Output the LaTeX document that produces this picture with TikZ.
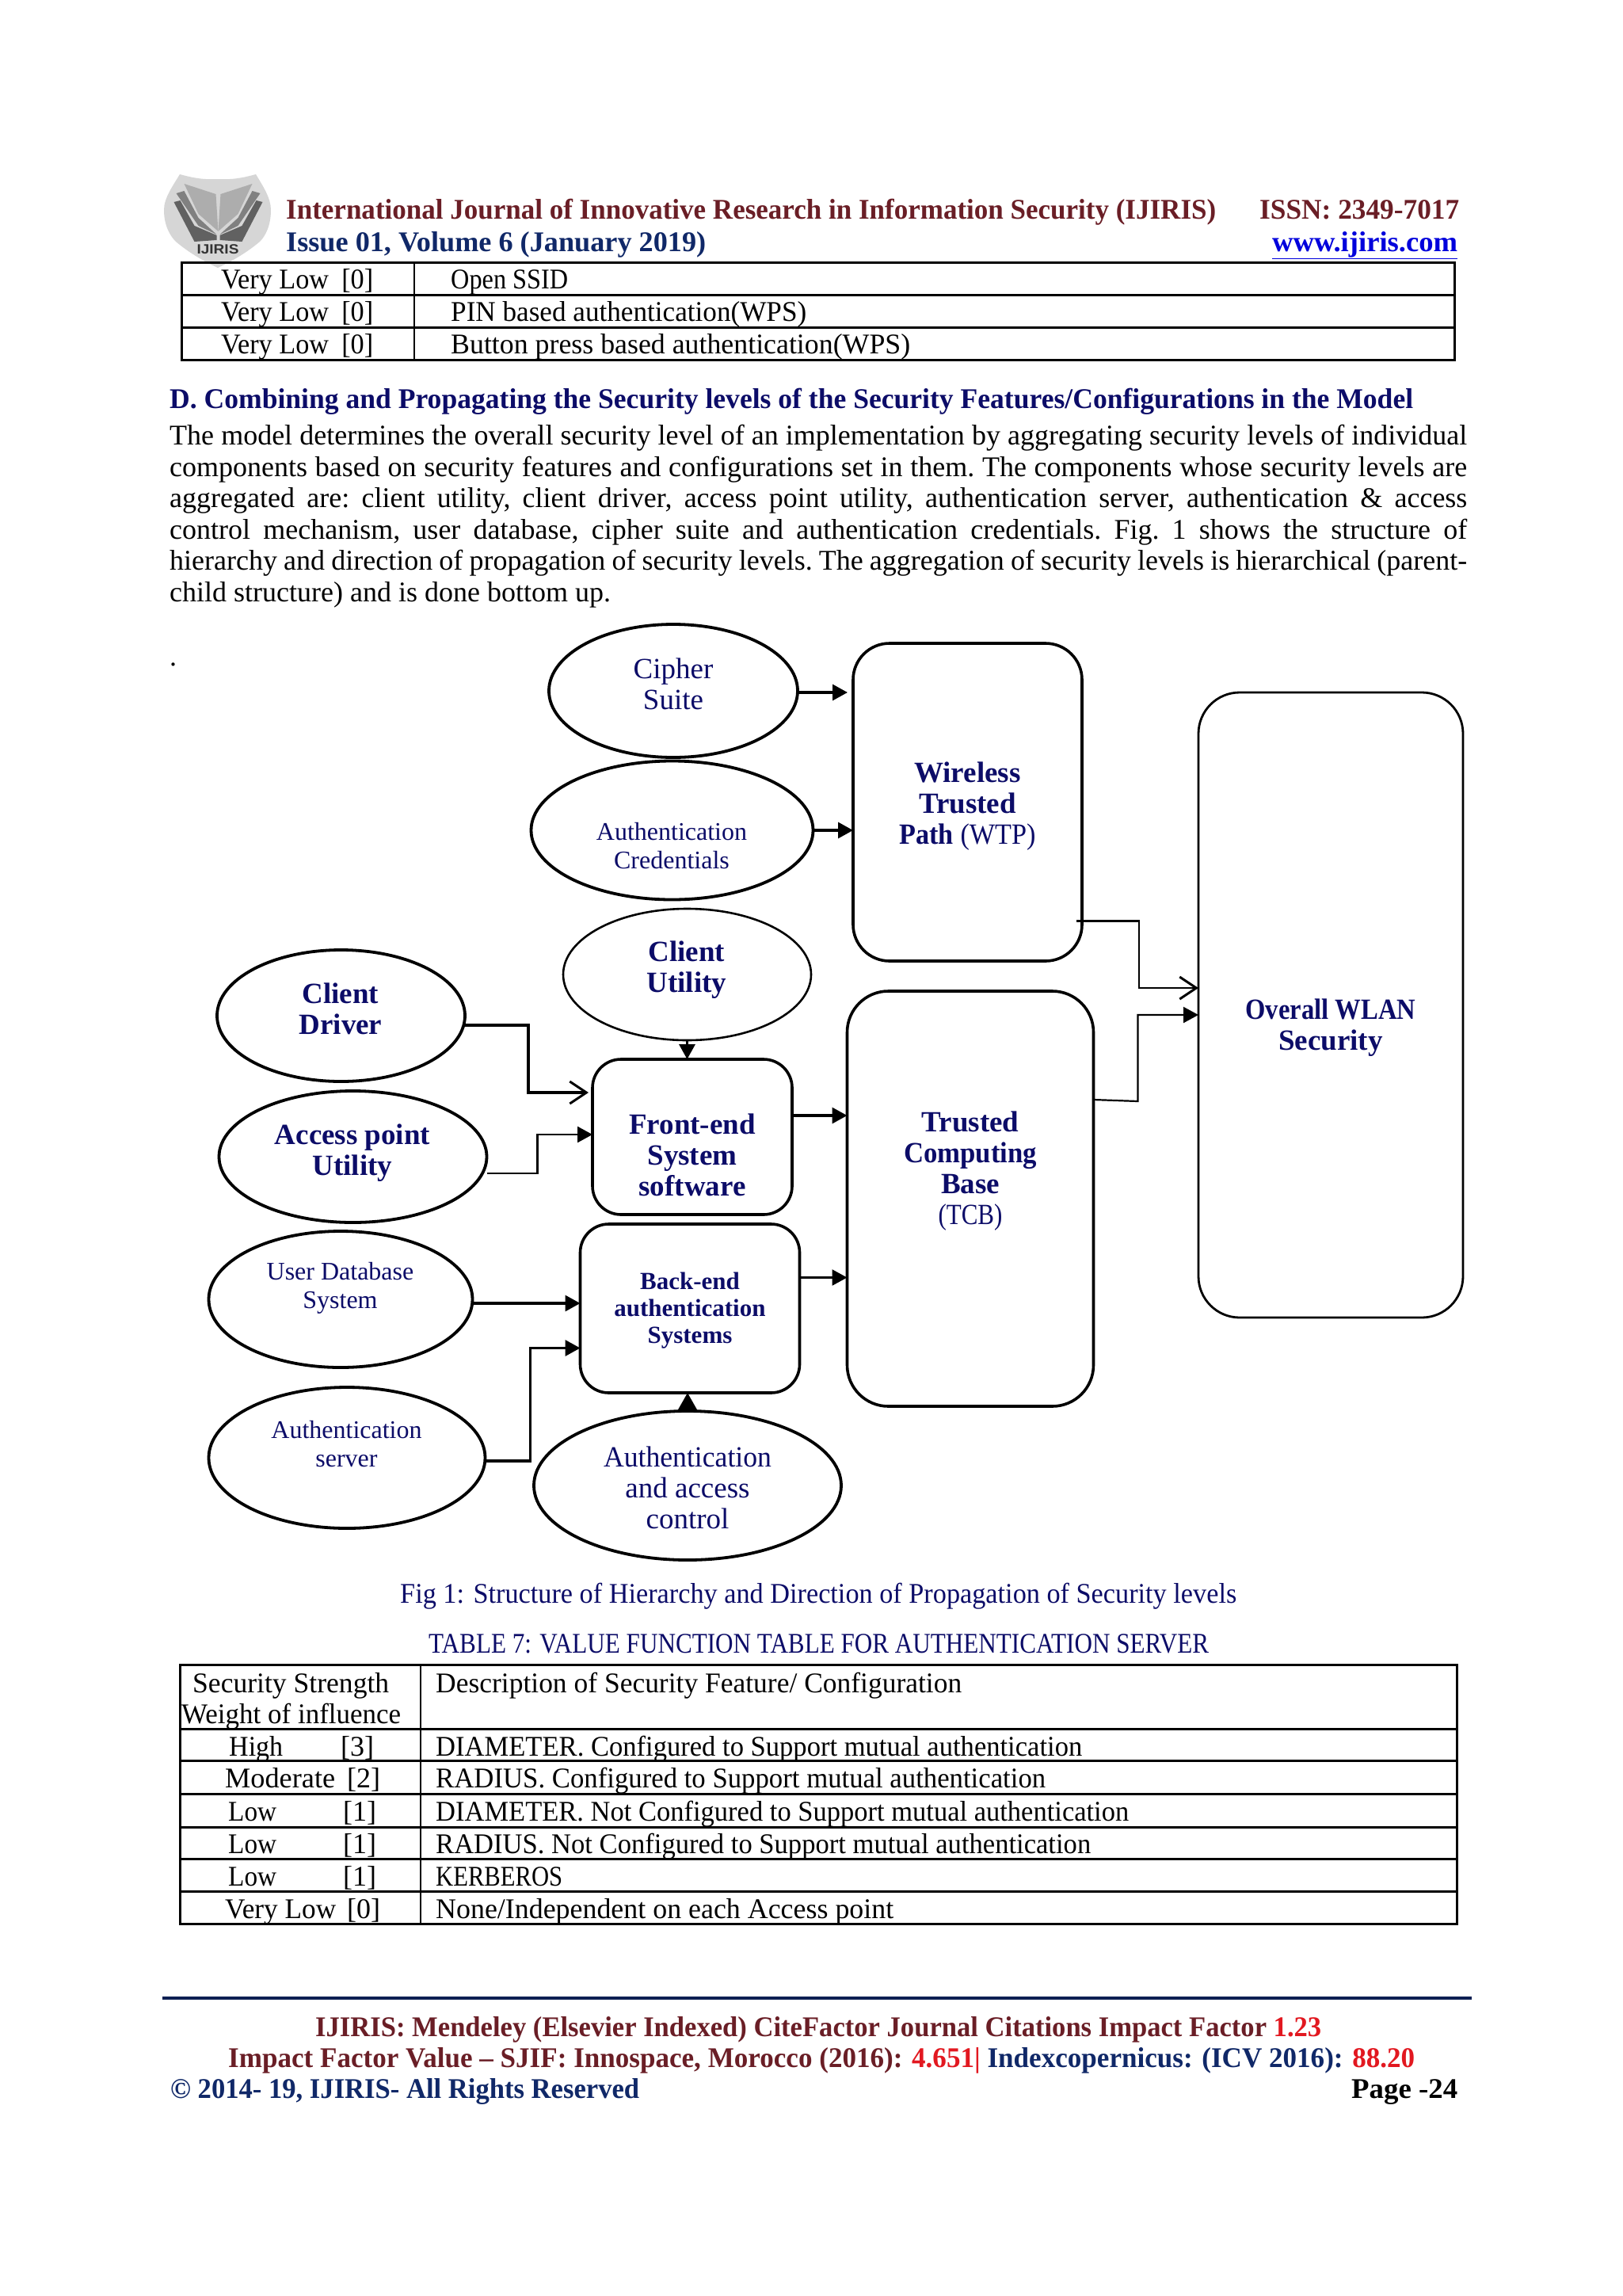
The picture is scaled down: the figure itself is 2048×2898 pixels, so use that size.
\documentclass[tikz,border=0pt]{standalone}
\usepackage{fontspec}
\usepackage{graphicx}
\usepackage{xcolor}
\usetikzlibrary{arrows.meta,positioning,shapes.geometric}
\setmainfont{Liberation Serif}
\newfontfamily\logofont{Liberation Sans}
\definecolor{navytext}{RGB}{12,12,104}
\definecolor{headred}{RGB}{106,30,38}
\definecolor{headblue}{RGB}{16,40,104}
\definecolor{numred}{RGB}{226,24,32}
\definecolor{linkblue}{RGB}{0,0,220}
\newcommand{\fitx}[2]{\resizebox{#1pt}{\height}{#2}}

\begin{document}
\begin{tikzpicture}[x=1pt,y=-1pt,
  oval/.style={ellipse,draw=black,line width=3.8pt,inner sep=0pt,outer sep=0pt},
  block/.style={rectangle,draw=black,line width=3.6pt,inner sep=0pt,outer sep=0pt,rounded corners=36pt},
  dtxt/.style={text=navytext,align=center,inner sep=0pt,font=\fontsize{37}{39}\selectfont},
  stxt/.style={text=navytext,align=center,inner sep=0pt,font=\fontsize{32}{36}\selectfont},
  btxt/.style={text=navytext,align=center,inner sep=0pt,font=\fontsize{37}{39}\selectfont\bfseries},
  ar/.style={-{Triangle[length=19pt,width=20pt]},line width=3.2pt},
  opn/.style={-{Straight Barb[length=21pt,width=28pt,line width=3pt]},line width=3.2pt},
  ptxt/.style={inner sep=0pt,anchor=west,text height=33pt,text depth=8pt,font=\fontsize{36}{39.5}\selectfont},
  hline/.style={line width=3pt}
]
\useasboundingbox (0,0) rectangle (2048,2898);
\fill[white] (0,0) rectangle (2048,2898);

% logo
\fill[black!16] (227,220) .. controls (245,225) and (258,227) .. (275,226)
  .. controls (292,227) and (305,225) .. (323,220)
  .. controls (332,235) and (342,250) .. (342,265)
  .. controls (342,285) and (335,298) .. (328,305)
  .. controls (310,320) and (292,330) .. (275,338)
  .. controls (258,330) and (240,320) .. (222,305)
  .. controls (215,298) and (207,285) .. (207,265)
  .. controls (207,250) and (218,235) .. (227,220) -- cycle;
\foreach \sd in {1,-1}{
  \begin{scope}[shift={(275.5,0)},xscale=\sd]
    \fill[black!32] (-43,232) -- (-3,245) -- (0,292) -- (-25,270) -- cycle;
    \fill[black!50] (-53,244) -- (-43,241) -- (-25,275) -- (-2,296) -- (-25,285) -- cycle;
    \fill[black!62] (-56,255) -- (-48,253) -- (-30,285) -- (-2,297) -- (-2,303) -- (-30,305) -- cycle;
  \end{scope}
}
\node[inner sep=0pt,text=black!80] (logotxt) at (275,315) {\logofont\bfseries\fitx{53}{\fontsize{17}{17}\selectfont IJIRIS}};

% header
\node[ptxt,text=headred] (journal) at (361,264) {\fitx{1174}{\bfseries International Journal of Innovative Research in Information Security (IJIRIS)}};
\node[ptxt,text=headred] (issn) at (1590,264) {\fitx{252}{\bfseries ISSN: 2349-7017}};
\node[ptxt,text=headblue] (issue) at (361,305) {\fitx{530}{\bfseries Issue 01, Volume 6 (January 2019)}};
\node[ptxt,text=linkblue] (www) at (1606,305) {\underline{\fitx{234}{\bfseries www.ijiris.com}}};

% top table
\draw[hline] (229.6,331) rectangle (1836,454);
\draw[hline] (229.6,372) -- (1836,372) (229.6,413) -- (1836,413);
\draw[line width=2pt] (523,331) -- (523,454);
\foreach \yy/\dw/\desc in {352/148/Open SSID,393/449/PIN based authentication(WPS),434/580/Button press based authentication(WPS)}{
  \node[ptxt] at (279,\yy) {\fitx{192}{Very Low\hspace{8pt} [0]}};
  \node[ptxt] at (569,\yy) {\fitx{\dw}{\desc}};
}

% section text
\node[ptxt,text=navytext] (sect) at (214,503) {\fitx{1570}{\bfseries D. Combining and Propagating the Security levels of the Security Features/Configurations in the Model}};
\node[inner sep=0pt,anchor=north west,text width=1638pt,align=justify,font=\fontsize{36}{39.5}\selectfont\frenchspacing] (para) at (214,536) {The model determines the overall security level of an implementation by aggregating security levels of individual\linebreak
components based on security features and configurations set in them. The components whose security levels are\linebreak
aggregated are: client utility, client driver, access point utility, authentication server, authentication \& access\linebreak
control mechanism, user database, cipher suite and authentication credentials. Fig. 1 shows the structure of\linebreak
hierarchy and direction of propagation of security levels. The aggregation of security levels is hierarchical (parent-\linebreak
child structure) and is done bottom up.};
\node[ptxt] (dot) at (214,828) {.};

% ovals
\node[oval,minimum width=314pt,minimum height=168pt] (cipher) at (850,872) {};
\node[oval,minimum width=356pt,minimum height=175pt] (cred) at (848.5,1048) {};
\node[oval,line width=2.6pt,minimum width=313pt,minimum height=166pt] (cutil) at (867.5,1230) {};
\node[oval,minimum width=313pt,minimum height=166pt] (driver) at (430.5,1282) {};
\node[oval,minimum width=338pt,minimum height=166pt] (access) at (445.5,1460) {};
\node[oval,minimum width=333pt,minimum height=172pt] (userdb) at (430,1640) {};
\node[oval,minimum width=349pt,minimum height=178pt] (server) at (438,1840) {};
\node[oval,minimum width=388pt,minimum height=188pt] (aac) at (868,1875) {};

% boxes
\node[block,rounded corners=46pt,minimum width=289pt,minimum height=401pt] (wtp) at (1221.5,1012.5) {};
\node[block,rounded corners=52pt,minimum width=311pt,minimum height=524pt] (tcb) at (1225,1513) {};
\node[block,line width=2.8pt,rounded corners=52pt,minimum width=334pt,minimum height=789pt] (overall) at (1680,1268.5) {};
\node[block,minimum width=252pt,minimum height=196pt] (frontend) at (874,1435) {};
\node[block,minimum width=277pt,minimum height=213pt] (backend) at (871,1651.5) {};

% labels
\node[dtxt] (ciphertxt) at (850,863) {Cipher\\Suite};
\node[stxt] (credtxt) at (848,1068) {Authentication\\Credentials};
\node[btxt] (cutiltxt) at (867,1224) {Client\\Utility};
\node[btxt] (drivertxt) at (430,1273) {Client\\Driver};
\node[btxt] (accesstxt) at (445,1455) {Access point\\Utility};
\node[stxt] (userdbtxt) at (429.5,1626) {User Database\\System};
\node[stxt] (servertxt) at (437.5,1823) {Authentication\\server};
\node[dtxt] (aactxt) at (868,1878) {\fitx{212}{Authentication}\\and access\\control};
\node[btxt] (wtptxt) at (1221.5,1018) {Wireless\\Trusted\\\fitx{172}{Path \normalfont(WTP)}};
\node[btxt] (tcbtxt) at (1225,1478) {Trusted\\\fitx{168}{Computing}\\Base\\\fitx{81}{\normalfont(TCB)}};
\node[btxt] (overalltxt) at (1680,1297) {\fitx{215}{Overall WLAN}\\Security};
\node[btxt] (frontendtxt) at (874,1458) {Front-end\\System\\software};
\node[stxt,font=\fontsize{31}{34}\selectfont\bfseries] (backendtxt) at (871,1654) {Back-end\\authentication\\Systems};

% connectors
\draw[ar,shorten >=7pt] ([yshift=-2pt]cipher.east) -- ([yshift=-2pt]cipher.east -| wtp.west);
\draw[ar] (cred.east) -- (cred.east -| wtp.west);
\draw[ar] (cutil.south) -- (cutil.south |- frontend.north);
\draw[opn,shorten >=5pt] ([yshift=-12pt]driver.east) -- ++(80,0) |- ([yshift=56pt]frontend.west);
\draw[ar,line width=2.6pt] ([yshift=-21pt]access.east) -- ++(64,0) |- ([yshift=3pt]frontend.west);
\draw[ar] ([yshift=27pt]frontend.east) -- ([yshift=27pt]frontend.east -| tcb.west);
\draw[ar,line width=2.6pt] ([yshift=39pt]backend.east) -- ([yshift=39pt]backend.east -| tcb.west);
\draw[ar] ([yshift=-5pt]userdb.east) -- ([yshift=-5pt]userdb.east -| backend.west);
\draw[ar] ([yshift=-4pt]server.east) -- ++(57,0) |- ([yshift=-50pt]backend.west);
\draw[-{Triangle[length=22pt,width=24pt]},line width=3.2pt] (aac.north) -- (aac.north |- backend.south);
\draw[opn,line width=2.6pt] ([yshift=-150pt,xshift=-7pt]wtp.east) -- ++(79,0) |- ([yshift=21.5pt]overall.west);
\draw[ar,line width=2.2pt] ([yshift=125pt]tcb.east) -- ++(56,2) |- ([yshift=-12.5pt]overall.west);

% caption and bottom table
\node[ptxt,text=navytext] (caption) at (505,2011) {\fitx{1056}{Fig 1: Structure of Hierarchy and Direction of Propagation of Security levels}};
\node[ptxt,text=navytext] (tabtitle) at (541,2074) {\fitx{985}{TABLE 7: VALUE FUNCTION TABLE FOR AUTHENTICATION SERVER}};
\draw[hline] (227,2101) rectangle (1839,2428.5);
\draw[line width=2pt] (531,2101) -- (531,2428.5);
\foreach \yy in {2182,2222,2264,2306,2346,2387.5}{
  \draw[hline] (227,\yy) -- (1839,\yy);
}
\node[ptxt] (strength) at (243,2124) {\fitx{248}{Security Strength}};
\node[ptxt] (weight) at (229,2163) {\fitx{277}{Weight of influence}};
\node[ptxt] (descr) at (550,2124) {\fitx{664}{Description of Security Feature/ Configuration}};
\foreach \yy/\lvl/\xa/\wa/\wgt/\xb in {
  2204/High/289/68/{[3]}/430,
  2244/Moderate/284/139/{[2]}/438,
  2286/Low/288/61/{[1]}/433,
  2327/Low/288/61/{[1]}/433,
  2368/Low/288/61/{[1]}/433,
  2409/Very Low/284/140/{[0]}/438}{
  \node[ptxt] at (\xa,\yy) {\fitx{\wa}{\lvl}};
  \node[ptxt] at (\xb,\yy) {\wgt};
}
\node[ptxt] (rowa) at (550,2204) {\fitx{816}{DIAMETER. Configured to Support mutual authentication}};
\node[ptxt] (rowb) at (550,2244) {\fitx{770}{RADIUS. Configured to Support mutual authentication}};
\node[ptxt] (rowc) at (550,2286) {\fitx{875}{DIAMETER. Not Configured to Support mutual authentication}};
\node[ptxt] (rowd) at (550,2327) {\fitx{827}{RADIUS. Not Configured to Support mutual authentication}};
\node[ptxt] (rowe) at (550,2368) {\fitx{160}{KERBEROS}};
\node[ptxt] (rowf) at (550,2409) {\fitx{578}{None/Independent on each Access point}};

% footer
\draw[headblue!80!black,line width=4pt] (205,2522) -- (1858,2522);
\node[ptxt,text=headred] (foota) at (398,2558) {\fitx{1270}{\bfseries IJIRIS: Mendeley (Elsevier Indexed) CiteFactor Journal Citations Impact Factor \textcolor{numred}{1.23}}};
\node[ptxt,text=headred] (footb) at (288,2597) {\fitx{1498}{\bfseries Impact Factor Value -- SJIF: Innospace, Morocco (2016): \textcolor{numred}{4.651|} \textcolor{headblue}{Indexcopernicus: (ICV 2016):} \textcolor{numred}{88.20}}};
\node[ptxt,text=headblue] (footc) at (215,2636) {\fitx{592}{\bfseries © 2014- 19, IJIRIS- All Rights Reserved}};
\node[ptxt] (page) at (1706,2636) {\fitx{134}{\bfseries Page -24}};
\end{tikzpicture}
\end{document}
